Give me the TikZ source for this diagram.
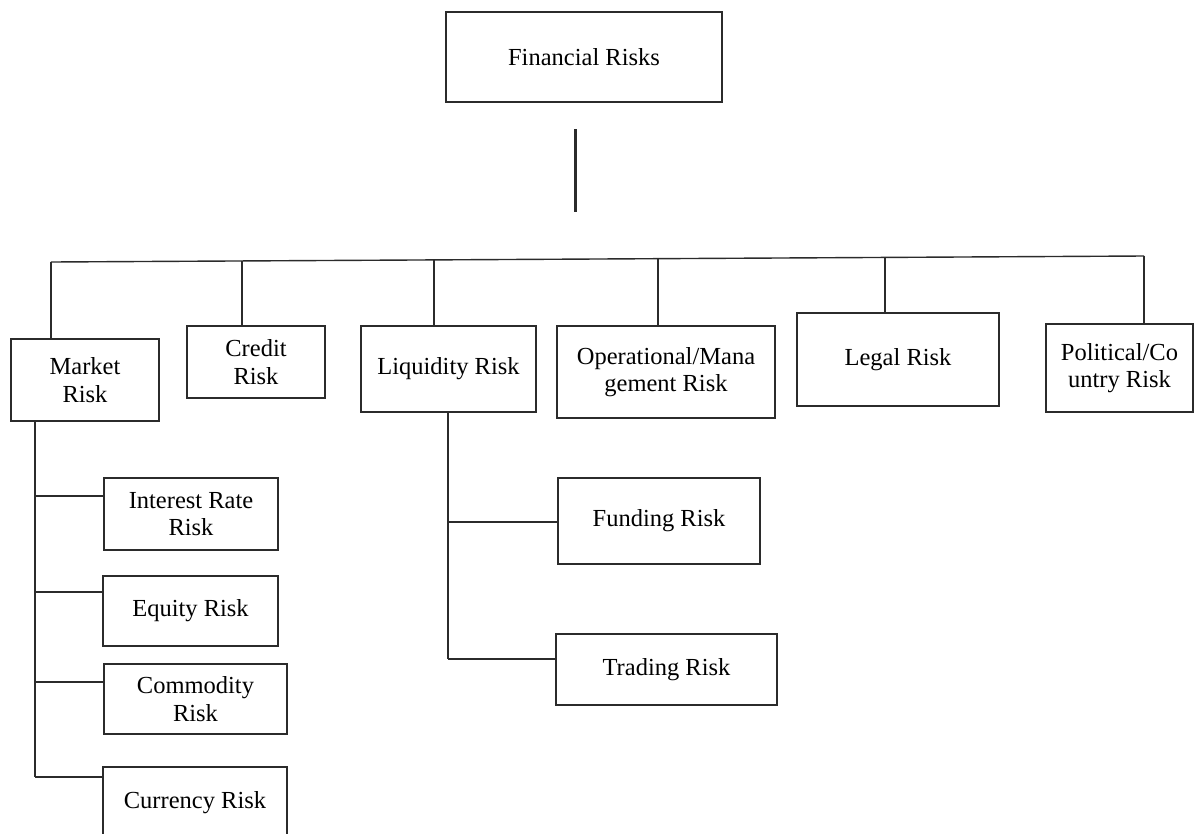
\documentclass[tikz,border=0pt]{standalone}
\usepackage{fontspec}
\setmainfont{Liberation Serif}
\definecolor{ln}{HTML}{2B2B2B}
\tikzset{
  rbox/.style={draw=ln, line width=1.4pt, rectangle, inner sep=0pt, align=center,
    font=\fontsize{24.5}{27.5}\selectfont, text=black},
  conn/.style={draw=ln, line width=1.4pt},
  thickconn/.style={draw=ln, line width=3pt}
}
\newcommand\mkbox[6]{\node[rbox, minimum width={(#4-#2)*1pt}, minimum height={(#5-#3)*1pt}] (#1) at ({(#2+#4)/2},{(#3+#5)/2}) {#6};}
\begin{document}
\begin{tikzpicture}[x=1pt,y=-1pt]
\clip (0,0) rectangle (1194,833);
\fill[white] (0,0) rectangle (1194,833);
% boxes
\mkbox{fin}{446}{12}{722}{102}{Financial Risks}
\mkbox{market}{11}{339}{159}{421}{Market\\Risk}
\mkbox{credit}{187}{326}{325}{398}{Credit\\Risk}
\mkbox{liq}{361}{326}{536}{412}{Liquidity Risk}
\mkbox{oper}{557}{326}{775}{418}{Operational/Mana\\gement Risk}
\mkbox{legal}{797}{313}{999}{406}{Legal Risk}
\mkbox{pol}{1046}{324}{1193}{412}{Political/Co\\untry Risk}
\mkbox{ir}{104}{478}{278}{550}{Interest Rate\\Risk}
\mkbox{eq}{103}{576}{278}{646}{Equity Risk}
\mkbox{com}{104}{664}{287}{734}{Commodity\\Risk}
\mkbox{cur}{103}{767}{287}{839}{Currency Risk}
\mkbox{fund}{558}{478}{760}{564}{Funding Risk}
\mkbox{trad}{556}{634}{777}{705}{Trading Risk}
% detached stem under the top box
\coordinate (s1) at (575,129);
\coordinate (s2) at (575,212);
\draw[thickconn] (s1) -- (s2);
% bus (slightly tilted as in the scan)
\coordinate (d1) at (51,262);
\coordinate (d2) at (242,261);
\coordinate (d3) at (434,259.9);
\coordinate (d4) at (658,258.7);
\coordinate (d5) at (885,257.4);
\coordinate (d6) at (1144,256);
\draw[conn] (d1) -- (d6);
\draw[conn] (d1) -- (d1 |- market.north);
\draw[conn] (d2) -- (d2 |- credit.north);
\draw[conn] (d3) -- (d3 |- liq.north);
\draw[conn] (d4) -- (d4 |- oper.north);
\draw[conn] (d5) -- (d5 |- legal.north);
\draw[conn] (d6) -- (d6 |- pol.north);
% market risk sub-tree
\coordinate (mt) at (35,421);
\coordinate (mb1) at (35,496);
\coordinate (mb2) at (35,592);
\coordinate (mb3) at (35,682);
\coordinate (mb4) at (35,777);
\draw[conn] (mt |- market.south) -- (mb4);
\draw[conn] (mb1) -- (mb1 -| ir.west);
\draw[conn] (mb2) -- (mb2 -| eq.west);
\draw[conn] (mb3) -- (mb3 -| com.west);
\draw[conn] (mb4) -- (mb4 -| cur.west);
% liquidity sub-tree
\coordinate (lt) at (448,412);
\coordinate (lb1) at (448,522);
\coordinate (lb2) at (448,659);
\draw[conn] (lt |- liq.south) -- (lb2);
\draw[conn] (lb1) -- (lb1 -| fund.west);
\draw[conn] (lb2) -- (lb2 -| trad.west);
\end{tikzpicture}
\end{document}
